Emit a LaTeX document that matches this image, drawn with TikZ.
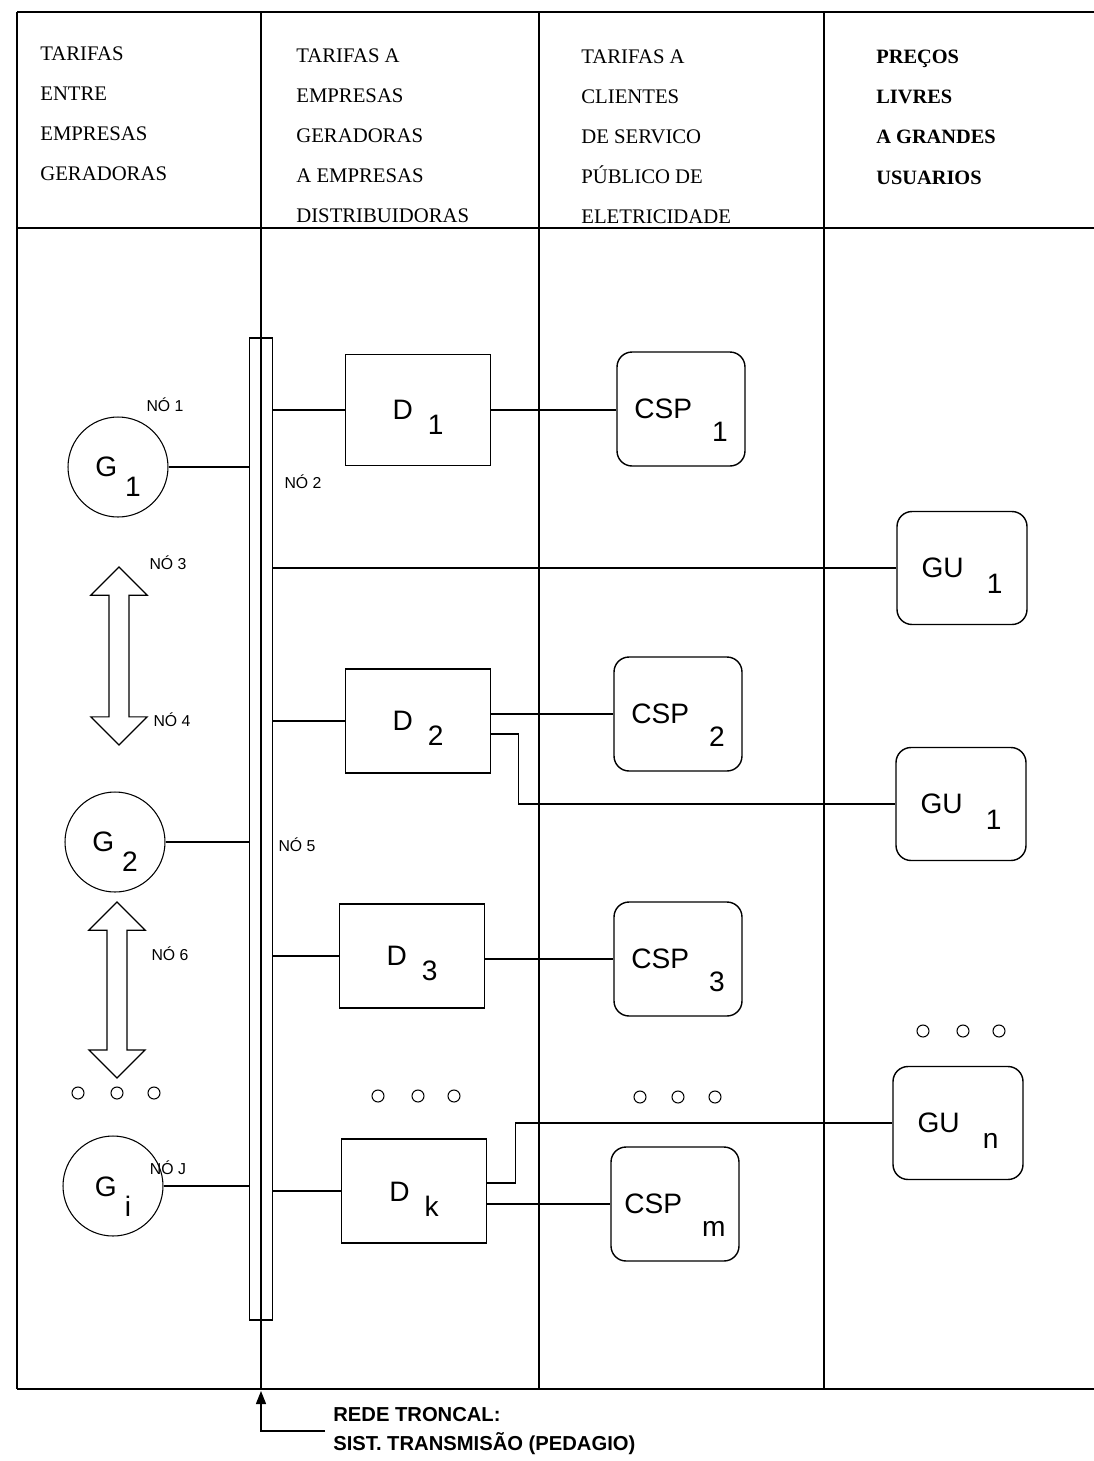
\documentclass[tikz,border=0pt]{standalone}
\usepackage{fontspec}
\setmainfont{Liberation Serif}
\setsansfont{Liberation Sans}
\usepackage{tikz}
\usetikzlibrary{shapes.arrows, arrows.meta, positioning}
\newcommand{\ndlabel}[4]{#1\hspace{#3}\raisebox{-#4}[\height][0pt]{#2}}

\begin{document}
\begin{tikzpicture}[
        x=0.02cm, y=-0.02cm,
        grid/.style={line width=0.8pt},
        hdr/.style={anchor=north west, inner sep=0pt, align=left, font=\fontsize{11.8}{22.8}\selectfont},
        gen/.style={circle, draw, line width=0.6pt, minimum size=2cm, inner sep=0pt, font=\sffamily\fontsize{16}{16}\selectfont},
        dist/.style={rectangle, draw, line width=0.9pt, minimum width=2.9cm, minimum height=2.08cm, inner sep=0pt, font=\sffamily\fontsize{16}{16}\selectfont},
        client/.style={rectangle, draw, rounded corners=0.3cm, line width=0.8pt, minimum width=2.56cm, minimum height=2.28cm, inner sep=0pt, font=\sffamily\fontsize{16}{16}\selectfont},
        user/.style={rectangle, draw, rounded corners=0.3cm, line width=0.8pt, minimum width=2.6cm, minimum height=2.26cm, inner sep=0pt, font=\sffamily\fontsize{16}{16}\selectfont},
        bus/.style={rectangle, draw, line width=0.7pt, minimum width=0.46cm, minimum height=19.64cm, inner sep=0pt},
        flow/.style={double arrow, draw, line width=0.7pt, rotate=90, minimum height=3.56cm, minimum width=1.1cm, double arrow head extend=0.36cm, inner xsep=0pt, inner ysep=0.19cm},
        nd/.style={inner sep=0pt, font=\sffamily\fontsize{9}{9}\selectfont},
        link/.style={line width=0.7pt},
        arrow/.style={-{Triangle[length=0.26cm, width=0.2cm]}, line width=0.7pt}
    ]
        \useasboundingbox (0,0) rectangle (1094,1461);

        % Table frame and column rules
        \draw[grid] (17,12) -- (1094,12);
        \draw[grid] (17,228) -- (1094,228);
        \draw[grid] (17,1389) -- (1094,1389);
        \draw[grid] (17,12) -- (17,1389);
        \draw[grid] (261,12) -- (261,1389);
        \draw[grid] (539,12) -- (539,1389);
        \draw[grid] (824,12) -- (824,1389);

        % Column headings
        \node[hdr] (h1) at (40,46) {TARIFAS\\ENTRE\\EMPRESAS\\GERADORAS};
        \node[hdr] (h2) at (296,48) {TARIFAS A\\EMPRESAS\\GERADORAS\\A EMPRESAS\\DISTRIBUIDORAS};
        \node[hdr] (h3) at (581,49) {TARIFAS A\\CLIENTES\\DE SERVICO\\PÚBLICO DE\\ELETRICIDADE};
        \node[hdr, font=\fontsize{11.6}{22.8}\selectfont\bfseries] (h4) at (876,50) {PREÇOS\\LIVRES\\A GRANDES\\USUARIOS};

        % Transmission bus
        \node[bus] (bus) at (261,829) {};

        % Generators
        \node[gen] (g1) at (118,467) {\ndlabel{G}{1}{0.16cm}{0.4cm}};
        \node[gen] (g2) at (115,842) {\ndlabel{G}{2}{0.16cm}{0.4cm}};
        \node[gen] (gi) at (113,1186) {\ndlabel{G}{i}{0.16cm}{0.4cm}};
        \node[flow] (f1) at (119,656) {};
        \node[flow, minimum height=3.52cm] (f2) at (117,990) {};

        % Distributors
        \node[dist, minimum height=2.22cm] (d1) at (418,410) {\ndlabel{D}{1}{0.3cm}{0.3cm}};
        \node[dist] (d2) at (418,721) {\ndlabel{D}{2}{0.3cm}{0.3cm}};
        \node[dist] (d3) at (412,956) {\ndlabel{D}{3}{0.3cm}{0.3cm}};
        \node[dist] (dk) at (414,1191) {\ndlabel{D}{k}{0.3cm}{0.3cm}};

        % Public service clients
        \node[client] (csp1) at (681,409) {\ndlabel{CSP}{1}{0.4cm}{0.46cm}};
        \node[client] (csp2) at (678,714) {\ndlabel{CSP}{2}{0.4cm}{0.46cm}};
        \node[client] (csp3) at (678,959) {\ndlabel{CSP}{3}{0.4cm}{0.46cm}};
        \node[client] (cspm) at (675,1204) {\ndlabel{CSP}{m}{0.4cm}{0.46cm}};

        % Large users
        \node[user] (gu1) at (962,568) {\ndlabel{GU}{1}{0.46cm}{0.32cm}};
        \node[user] (gu2) at (961,804) {\ndlabel{GU}{1}{0.46cm}{0.32cm}};
        \node[user] (gun) at (958,1123) {\ndlabel{GU}{n}{0.46cm}{0.32cm}};

        % Node labels
        \node[nd] (n1) at (165,405) {NÓ 1};
        \node[nd] (n2) at (303,482) {NÓ 2};
        \node[nd] (n3) at (168,563) {NÓ 3};
        \node[nd] (n4) at (172,720) {NÓ 4};
        \node[nd] (n5) at (297,845) {NÓ 5};
        \node[nd] (n6) at (170,954) {NÓ 6};
        \node[nd] (nj) at (168,1168) {NÓ J};

        % Connections to the bus
        \draw[link] (g1.east) -- (g1.east -| bus.west);
        \draw[link] (g2.east) -- (g2.east -| bus.west);
        \draw[link] (gi.east) -- (gi.east -| bus.west);
        \draw[link] (bus.east |- d1.west) -- (d1.west);
        \draw[link] (bus.east |- gu1.west) -- (gu1.west);
        \draw[link] (bus.east |- d2.west) -- (d2.west);
        \draw[link] (bus.east |- d3.west) -- (d3.west);
        \draw[link] (bus.east |- dk.west) -- (dk.west);

        % Distributor outputs
        \draw[link] (d1.east) -- (d1.east -| csp1.west);
        \draw[link] (d2.east |- csp2.west) -- (csp2.west);
        \draw[link] ([yshift=-0.26cm]d2.east) -- ++(27,0) |- (gu2.west);
        \draw[link] (d3.east |- csp3.west) -- (csp3.west);
        \draw[link] ([yshift=0.16cm]dk.east) -- ++(28,0) |- (gun.west);
        \draw[link] (dk.east |- cspm.west) -- (cspm.west);

        % Ellipsis marks
        \foreach \cx/\cy in {78/1093, 117/1093, 154/1093, 378/1096, 418/1096, 454/1096, 640/1097, 678/1097, 715/1097, 923/1031, 963/1031, 999/1031}
            \draw[line width=0.6pt] (\cx,\cy) circle[radius=0.12cm];

        % Trunk network callout
        \coordinate (tip) at (261,1391);
        \node[anchor=west, align=left, inner sep=0pt, font=\sffamily\bfseries\fontsize{11.5}{16}\selectfont] (trunk) at (333,1431) {REDE TRONCAL:\\SIST. TRANSMISÃO (PEDAGIO)};
        \draw[arrow] ([xshift=-0.16cm]trunk.west) -| (tip);
\end{tikzpicture}
\end{document}
